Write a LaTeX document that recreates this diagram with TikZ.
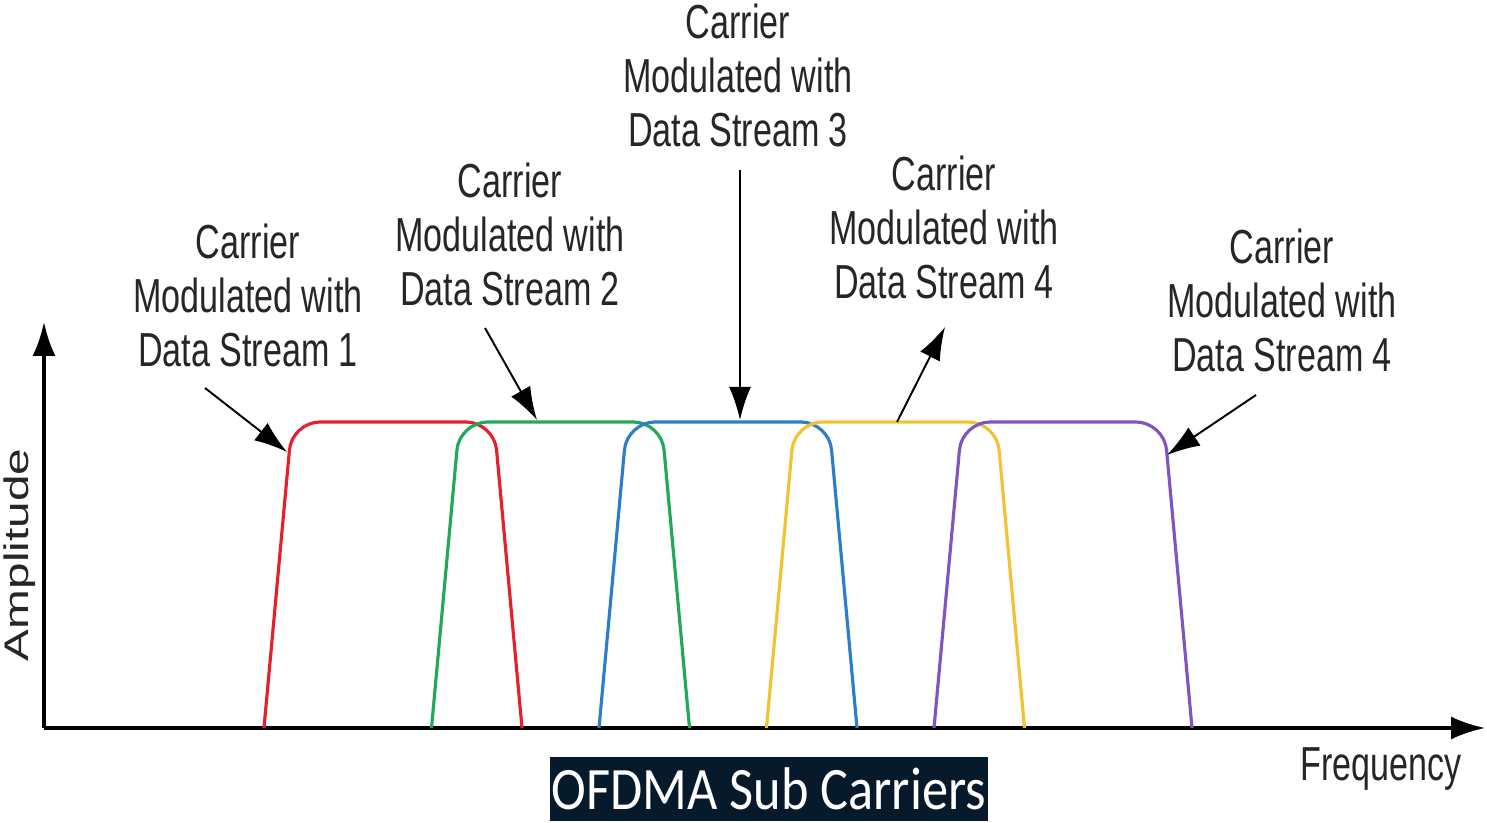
\documentclass[tikz,border=0pt]{standalone}
\usepackage{fontspec}
\setmainfont{Liberation Sans}
\newfontfamily\captionfont{Carlito}
\usepackage{graphicx}
\usetikzlibrary{arrows.meta}

\definecolor{carrRed}{HTML}{E5202E}
\definecolor{carrGreen}{HTML}{21A95B}
\definecolor{carrBlue}{HTML}{2E7DCB}
\definecolor{carrYellow}{HTML}{F2C230}
\definecolor{carrPurple}{HTML}{8155C0}
\definecolor{captionBg}{HTML}{061A2C}

% stretched text, as in the picture
\newcommand{\tall}[1]{\scalebox{1}[1.4]{\begin{tabular}{@{}c@{}}#1\end{tabular}}}

\tikzset{
    carrier/.style={line width=0.9pt, rounded corners=2.8mm},
    streamlabel/.style={inner sep=0pt, font=\fontsize{9.7}{11}\selectfont, text=black!85},
    pointer/.style={line width=0.55pt, -{Latex[length=3.3mm,width=2.2mm]}},
    axis/.style={line width=1pt, -{Latex[length=3.4mm,width=2.3mm]}}
}

\begin{document}
\begin{tikzpicture}
        \useasboundingbox (0, 0) rectangle (14.87, 8.23);

        % Axes
        \coordinate (O) at (0.44, 0.95);
        \coordinate (ytop) at (0.44, 5.01);
        \coordinate (xend) at (14.85, 0.95);
        \draw[axis] (O) -- (ytop);
        \draw[axis] (O) -- (xend);
        \node[streamlabel, rotate=90] (amp) at (0.20, 2.68) {\scalebox{1.4}[1]{Amplitude}};
        \node[streamlabel] (freq) at (13.81, 0.53) {\tall{Frequency}};

        % Sub carriers
        \foreach \i/\col in {0/carrRed, 1/carrGreen, 2/carrBlue, 3/carrYellow, 4/carrPurple} {
            \draw[carrier, \col] (2.64 + 1.675*\i, 0.95) -- (2.92 + 1.675*\i, 4.01)
                -- (4.94 + 1.675*\i, 4.01) -- (5.22 + 1.675*\i, 0.95);
        }

        % Labels of the data streams
        \node[streamlabel] (L1) at (2.48, 5.21) {\tall{Carrier\\Modulated with\\Data Stream 1}};
        \node[streamlabel] (L2) at (5.10, 5.82) {\tall{Carrier\\Modulated with\\Data Stream 2}};
        \node[streamlabel] (L3) at (7.38, 7.41) {\tall{Carrier\\Modulated with\\Data Stream 3}};
        \node[streamlabel] (L4) at (9.44, 5.89) {\tall{Carrier\\Modulated with\\Data Stream 4}};
        \node[streamlabel] (L5) at (12.82, 5.16) {\tall{Carrier\\Modulated with\\Data Stream 4}};

        % Pointers from the labels to the carriers
        \coordinate (p1a) at (2.05, 4.35);  \coordinate (p1b) at (2.87, 3.71);
        \coordinate (p2a) at (4.85, 4.95);  \coordinate (p2b) at (5.37, 4.03);
        \coordinate (p3a) at (7.40, 6.53);  \coordinate (p3b) at (7.40, 4.03);
        \coordinate (p4a) at (8.97, 4.01);  \coordinate (p4b) at (9.45, 4.96);
        \coordinate (p5a) at (12.56, 4.28); \coordinate (p5b) at (11.67, 3.68);
        \foreach \k in {1, ..., 5} {
            \draw[pointer] (p\k a) -- (p\k b);
        }

        % Caption
        \node[fill=captionBg, text=white, minimum width=4.38cm, minimum height=0.64cm, inner sep=0pt,
              font=\captionfont\fontsize{14.9}{16}\selectfont] (cap) at (7.69, 0.34) {\scalebox{1}[1.15]{OFDMA Sub Carriers}};
\end{tikzpicture}
\end{document}
